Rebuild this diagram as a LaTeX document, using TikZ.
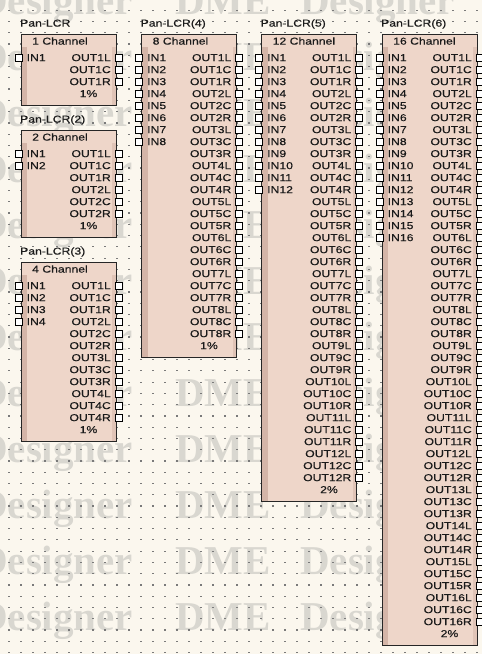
\documentclass[tikz,border=0pt]{standalone}
\usepackage{fontspec}
\setmainfont{Liberation Sans}[FakeStretch=1.22, FakeBold=0.35]
\newfontfamily\wmfont{Liberation Serif Bold}
\definecolor{bgc}{HTML}{FBF7EE}
\definecolor{bodyc}{HTML}{EED6C9}
\definecolor{leftband}{HTML}{D4B5A8}
\definecolor{rightband}{HTML}{E0C4B7}
\definecolor{wmc}{HTML}{D9D7D0}
\definecolor{dotc}{HTML}{7A7A7A}
\definecolor{txtc}{HTML}{1A1A1A}
\tikzset{
  boxline/.style={draw=black!85, line width=1pt},
  port/.style={rectangle, draw=black, fill=white, line width=0.8pt, minimum size=7pt, inner sep=0pt},
  txt/.style={inner sep=0pt, text height=7.2pt, text depth=0pt, text=txtc, font=\fontsize{10}{12}\selectfont},
  wm/.style={inner sep=0pt, anchor=west, text height=27pt, text depth=0pt, text=wmc, font=\wmfont\fontsize{41}{46}\selectfont},
  griddot/.style={fill=dotc}
}
\newcommand\PanBlock[7]{% #1 id, #2 left, #3 top, #4 label, #5 channels, #6 inputs, #7 percent
  \pgfmathsetmacro\PBright{#2+95}
  \pgfmathtruncatemacro\PBnout{3*#5}
  \pgfmathsetmacro\PBbottom{#3+23.5+12*(\PBnout-1)+23.5}
  \pgfmathsetmacro\PBpct{#3+23.5+12*\PBnout}
  \fill[bodyc] (#2,#3) rectangle (\PBright,\PBbottom);
  \fill[leftband] (#2,#3+13) rectangle (#2+6,\PBbottom);
  \fill[rightband] (\PBright-4,#3+13) rectangle (\PBright,\PBbottom);
  \draw[boxline] (#2,#3) rectangle (\PBright,\PBbottom);
  \node[txt, anchor=west] (#1-label) at (#2-1,#3-11) {#4};
  \node[txt, anchor=west] (#1-head) at (#2+11,#3+7) {#5 Channel};
  \node[txt] (#1-pct) at (#2+67.5,\PBpct) {#7};
  \foreach \j in {1,...,#6}{
    \node[port] (#1-in\j) at (#2-2.5,{#3+23.5+12*(\j-1)}) {};
    \node[txt, anchor=west] (#1-inlabel\j) at (#2+5.5,{#3+23.5+12*(\j-1)}) {IN\j};
  }
  \foreach \c in {1,...,#5}{
    \foreach \m/\s in {0/L,1/C,2/R}{
      \node[port] (#1-out\c\s) at (\PBright+2.5,{#3+23.5+12*(3*(\c-1)+\m)}) {};
      \node[txt, anchor=east] (#1-outlabel\c\s) at (\PBright-5,{#3+23.5+12*(3*(\c-1)+\m)}) {OUT\c\s};
    }
  }
}
\begin{document}
\begin{tikzpicture}[x=1pt,y=-1pt]
  \useasboundingbox (0,0) rectangle (482,654);
  \fill[bgc] (0,0) rectangle (482,654);
  % watermark
  \foreach \k in {0,...,11}{
    \pgfmathsetmacro\r{617-56*\k}
    \node[wm] (wmA\k) at (-22,\r) {Designer};
    \node[wm] (wmB\k) at (175,\r) {DME};
    \node[wm] (wmC\k) at (300,\r) {Designer};
  }
  % grid dots
  \foreach \gx in {9,21,...,477}{
    \foreach \k in {0,...,57}{
      \pgfmathsetmacro\gy{10.2+11.27*\k}
      \fill[griddot] (\gx-0.6,\gy-0.6) rectangle (\gx+0.6,\gy+0.6);
    }
  }
  \PanBlock{b1}{21}{34}{Pan-LCR}{1}{1}{1\%}
  \PanBlock{b2}{21}{130}{Pan-LCR(2)}{2}{2}{1\%}
  \PanBlock{b3}{21}{262}{Pan-LCR(3)}{4}{4}{1\%}
  \PanBlock{b4}{141.5}{34}{Pan-LCR(4)}{8}{8}{1\%}
  \PanBlock{b5}{261.5}{34}{Pan-LCR(5)}{12}{12}{2\%}
  \PanBlock{b6}{382}{34}{Pan-LCR(6)}{16}{16}{2\%}
\end{tikzpicture}
\end{document}
